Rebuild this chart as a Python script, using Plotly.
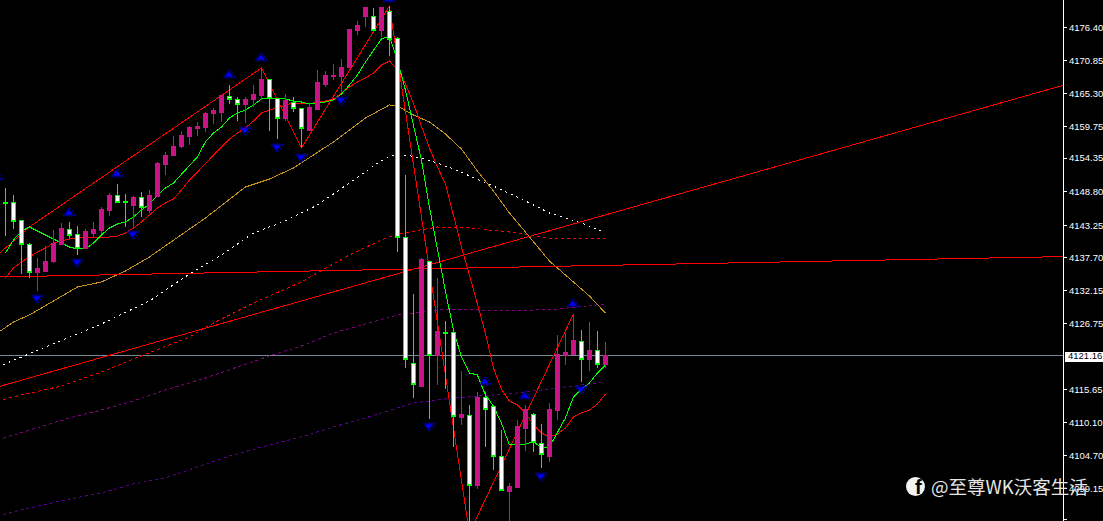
import plotly.graph_objects as go

bar_index = list(range(76))
open_prices = [4146.89,4146.81,4143.79,4139.76,4135.06,4135.39,4137.07,4139.92,4142.44,4141.44,
 4139.25,4141.77,4142.27,4145.63,4148.15,4147.14,4146.47,4147.81,4145.63,4147.98,
 4153.35,4154.70,4156.37,4158.05,4159.23,4159.40,4161.75,4162.08,4164.60,4164.26,
 4163.26,4164.10,4164.93,4167.62,4164.43,4161.07,4163.76,4162.75,4159.06,4162.42,
 4166.78,4167.96,4168.12,4169.47,4175.68,4178.03,4178.03,4175.68,4178.87,4174.50,
 4141.10,4119.95,4116.09,4137.07,4121.13,4125.07,4124.99,4110.72,4111.22,4099.47,
 4114.08,4112.57,4104.34,4098.30,4098.97,4109.04,4111.39,4106.52,4104.34,4112.06,
 4121.29,4121.46,4123.64,4120.46,4122.13,4119.78]
high_prices = [4149.32,4148.15,4143.95,4140.09,4137.57,4139.59,4142.27,4143.45,4143.62,4142.95,
 4142.44,4143.62,4146.14,4148.49,4150.00,4148.32,4147.98,4148.65,4148.99,4153.69,
 4155.37,4158.05,4158.89,4159.73,4160.40,4162.08,4162.75,4164.77,4166.61,4164.60,
 4164.60,4166.61,4169.47,4167.62,4164.43,4165.10,4164.60,4162.75,4163.59,4169.13,
 4168.96,4170.14,4170.98,4176.01,4177.36,4179.54,4179.54,4179.54,4179.87,4174.67,
 4151.51,4131.53,4137.57,4137.07,4134.22,4127.00,4124.99,4118.61,4112.90,4115.08,
 4115.08,4112.57,4108.70,4099.81,4110.38,4112.90,4111.56,4109.71,4113.24,4124.65,
 4124.99,4128.18,4125.49,4126.83,4125.32,4123.47]
low_prices = [4141.27,4142.44,4134.89,4134.22,4132.04,4135.39,4136.74,4139.92,4140.93,4138.08,
 4139.25,4140.93,4141.60,4144.62,4146.81,4142.78,4142.78,4144.46,4145.13,4147.98,
 4151.51,4154.70,4156.04,4156.54,4158.05,4158.72,4160.07,4160.40,4163.42,4160.57,
 4160.24,4162.92,4164.10,4158.89,4157.55,4160.57,4162.08,4156.04,4159.06,4162.42,
 4166.28,4167.45,4165.44,4169.47,4175.00,4176.35,4175.68,4174.67,4171.48,4138.58,
 4119.11,4114.08,4116.09,4110.55,4116.26,4115.59,4105.85,4109.55,4091.42,4098.80,
 4105.85,4101.99,4098.47,4091.42,4098.97,4105.18,4105.01,4102.33,4103.33,4110.38,
 4119.62,4121.46,4116.76,4118.61,4119.11,4119.11]
close_prices = [4146.72,4143.62,4139.76,4135.06,4135.73,4137.07,4140.09,4142.61,4141.27,4139.25,
 4141.94,4142.44,4145.80,4148.15,4146.81,4146.81,4147.65,4145.97,4148.15,4153.52,
 4154.86,4156.37,4158.22,4159.40,4159.73,4161.91,4162.25,4164.77,4164.10,4163.26,
 4164.26,4165.10,4167.62,4164.43,4161.07,4163.93,4162.59,4159.23,4162.92,4166.95,
 4168.29,4168.21,4169.63,4176.01,4176.68,4179.54,4175.68,4179.54,4174.33,4141.10,
 4120.62,4116.26,4137.24,4121.13,4125.32,4124.90,4110.89,4111.39,4099.31,4114.08,
 4112.23,4104.34,4098.47,4099.14,4109.21,4112.23,4106.69,4104.51,4112.23,4121.46,
 4121.63,4123.81,4120.62,4121.97,4119.62,4121.13]

fast_ma = [4138.41,4140.60,4142.11,4142.78,4142.11,4141.44,4140.76,4140.09,4139.42,4139.09,
 4139.09,4140.09,4141.44,4142.61,4143.28,4143.62,4144.46,4145.63,4146.64,4148.15,
 4149.32,4150.16,4151.67,4153.18,4154.53,4157.05,4158.56,4159.56,4161.07,4161.91,
 4162.42,4163.26,4164.26,4164.43,4164.43,4164.26,4163.93,4163.76,4163.42,4163.59,
 4163.76,4164.10,4165.10,4166.61,4168.29,4170.47,4172.49,4174.33,4174.84,4170.81,
 4165.77,4159.90,4154.02,4146.14,4138.92,4132.04,4125.49,4120.96,4118.27,4117.94,
 4114.58,4112.73,4109.88,4106.19,4106.19,4106.36,4106.69,4105.85,4105.85,4108.20,
 4110.72,4114.24,4115.59,4116.59,4118.27,4119.62]
mid_ma = [4134.22,4135.90,4136.90,4137.74,4138.58,4139.25,4140.09,4140.43,4140.76,4140.93,
 4141.10,4141.10,4141.10,4141.10,4141.27,4141.77,4142.61,4143.62,4144.79,4145.97,
 4146.81,4147.48,4148.99,4150.67,4152.01,4153.52,4154.86,4156.21,4157.55,4158.56,
 4159.40,4160.57,4161.91,4162.42,4162.75,4163.26,4163.59,4163.59,4163.42,4163.76,
 4163.93,4164.26,4165.27,4166.28,4167.12,4167.79,4168.63,4169.97,4170.64,4169.13,
 4166.78,4163.59,4159.73,4156.04,4152.85,4150.00,4144.79,4139.42,4134.72,4130.02,
 4124.99,4119.11,4115.59,4113.57,4112.90,4111.56,4109.55,4108.20,4107.53,4108.03,
 4109.04,4110.89,4111.56,4112.06,4113.07,4114.75]

zigzag_idx = [-1,3,32,37,48,58,71]
zigzag_val = [4138.08,4142.78,4169.47,4156.04,4179.87,4091.42,4128.18]

slow_idx = [-1,1,3,6,9,12,15,18,21,25,30,33,36,41,45,48,49,51,53,55,57,59,61,63,65,68,71,73,75]
slow_val = [4124.99,4126.83,4128.01,4130.36,4132.71,4133.55,4135.39,4137.74,4140.60,4144.29,
 4149.49,4150.83,4152.68,4157.05,4161.07,4163.26,4163.09,4161.58,4160.40,4158.39,
 4155.87,4152.18,4148.82,4145.13,4141.94,4137.07,4133.55,4131.20,4128.34]

white_idx = [-1,2,6,12,18,21,23,27,31,35,39,43,46,48,50,52,54,56,59,61,65,68,72,75]
white_val = [4119.28,4120.96,4123.14,4126.50,4130.36,4133.04,4134.89,4138.08,4141.77,4143.79,
 4146.47,4150.16,4153.02,4154.70,4154.86,4154.36,4153.52,4152.51,4150.83,4149.66,
 4147.14,4145.13,4143.45,4141.77]

reddash_idx = [-1,2,7,12,17,23,26,31,37,43,47,49,54,58,63,65,68,75]
reddash_val = [4113.57,4114.58,4116.09,4118.44,4121.13,4124.32,4126.66,4130.02,4133.55,4138.08,
 4140.60,4141.60,4142.78,4142.61,4141.94,4141.60,4140.93,4140.93]

purple_idx = [-1,3,8,12,16,20,25,29,33,37,41,45,49,51,55,59,63,69,75]
purple_val = [4107.03,4108.70,4110.72,4112.06,4113.57,4115.42,4117.43,4119.28,4121.13,4122.80,
 4124.99,4126.50,4128.01,4128.34,4129.01,4128.85,4128.68,4129.01,4129.85]

indigo_idx = [-1,3,8,12,16,20,24,28,33,37,41,45,49,51,55,59,63,67,75]
indigo_val = [4094.27,4095.61,4097.12,4098.13,4099.64,4100.65,4102.50,4104.34,4106.19,4107.53,
 4109.21,4110.72,4112.40,4113.24,4113.91,4114.41,4114.75,4115.42,4116.76]

trend_idx = [-1,133]
trend_flat_val = [4134.39,4137.83]
trend_rise_val = [4115.92,4166.86]

up_idx = [-1,8,14,28,32,48,60,65,71]
up_val = [4151.17,4145.13,4151.67,4168.29,4171.14,4181.05,4116.76,4114.41,4129.85]
down_idx = [4,9,16,30,34,37,42,53,67,72]
down_val = [4130.86,4136.90,4141.60,4159.06,4156.21,4154.53,4164.10,4109.38,4101.00,4115.59]

last_price = 4121.16
tick_levels = [4176.31,4170.77,4165.23,4159.69,4154.34,4148.78,4143.08,4137.70,4132.17,4126.63,
 4115.55,4110.01,4104.39,4098.85,4093.60]
tick_text = ["4176.40","4170.85","4165.30","4159.75","4154.35","4148.80","4143.25","4137.70",
 "4132.15","4126.75","4115.65","4110.10","4104.70","4099.15","4093.60"]

X_RANGE = [-0.68, 132.2]
Y_RANGE = [4093.43, 4180.88]
RED, LIME = "#ff0000", "#00ff00"

fig = go.Figure()

def line(x, y, color, dash="solid"):
    fig.add_trace(go.Scatter(x=x, y=y, mode="lines", hoverinfo="skip", showlegend=False,
                             line=dict(color=color, width=1, dash=dash)))

line(trend_idx, [last_price, last_price], "#778899")
line(purple_idx, purple_val, "#800080", "3px,3px")
line(indigo_idx, indigo_val, "#5a0090", "3px,3px")
line(reddash_idx, reddash_val, RED, "3px,3px")
line(white_idx, white_val, "#ffffff", "2px,4px")
line(slow_idx, slow_val, "#c8901c")
line(trend_idx, trend_flat_val, RED)
line(trend_idx, trend_rise_val, RED)
line(zigzag_idx, zigzag_val, RED)
line(bar_index, mid_ma, RED)
line(bar_index, fast_ma, LIME)

fig.add_trace(go.Candlestick(
    x=bar_index, open=open_prices, high=high_prices, low=low_prices, close=close_prices,
    xaxis="x2", yaxis="y2", showlegend=False, hoverinfo="skip", whiskerwidth=0,
    increasing=dict(line=dict(color="#c71585", width=1), fillcolor="#c71585"),
    decreasing=dict(line=dict(color=LIME, width=1), fillcolor="#ffffff"),
))

def arrows(x, y, symbol):
    fig.add_trace(go.Scatter(x=x, y=y, mode="markers", xaxis="x2", yaxis="y2",
                             hoverinfo="skip", showlegend=False,
                             marker=dict(symbol=symbol + "-open", size=11, color="#00009a",
                                         line=dict(color="#00009a", width=1))))
    fig.add_trace(go.Scatter(x=[v - 0.06 for v in x], y=y, mode="markers", xaxis="x2", yaxis="y2",
                             hoverinfo="skip", showlegend=False,
                             marker=dict(symbol=symbol, size=7, color="#0000ff",
                                         line=dict(width=0))))

arrows(up_idx, up_val, "triangle-up")
arrows(down_idx, down_val, "triangle-down")

W, H, PLOT_W = 1103, 521, 1063

fig.update_layout(
    width=W, height=H, autosize=False,
    margin=dict(l=0, r=W - PLOT_W, t=0, b=0, pad=0),
    paper_bgcolor="#000000", plot_bgcolor="#000000",
    showlegend=False, hovermode=False, dragmode=False,
    boxgap=0.5, boxgroupgap=0,
    xaxis=dict(range=X_RANGE, visible=False, fixedrange=True, rangeslider=dict(visible=False)),
    xaxis2=dict(range=X_RANGE, visible=False, fixedrange=True, overlaying="x",
                rangeslider=dict(visible=False)),
    yaxis=dict(range=Y_RANGE, side="right", fixedrange=True, showgrid=False, zeroline=False,
               tickmode="array", tickvals=tick_levels, ticktext=tick_text,
               ticks="outside", ticklen=3, tickwidth=1, tickcolor="#ffffff",
               showline=True, linecolor="#ffffff", linewidth=1,
               tickfont=dict(family="Liberation Sans", size=9.5, color="#ffffff")),
    yaxis2=dict(range=Y_RANGE, visible=False, fixedrange=True, overlaying="y", side="right"),
    shapes=[
        dict(type="rect", layer="above", xref="paper", yref="paper",
             x0=1065 / PLOT_W, x1=W / PLOT_W, y0=1 - 362 / H, y1=1 - 352 / H,
             fillcolor="#ffffff", line=dict(width=0)),
        dict(type="circle", layer="above", xref="paper", yref="paper",
             x0=906 / PLOT_W, x1=925 / PLOT_W, y0=1 - 496 / H, y1=1 - 477 / H,
             fillcolor="#f2f2f2", line=dict(width=0)),
    ],
    annotations=[
        dict(text=f"{last_price:.2f}", xref="paper", yref="y", x=1, y=last_price,
             xanchor="left", yanchor="middle", xshift=4, showarrow=False,
             font=dict(family="Liberation Sans", size=9.5, color="#000000"), borderpad=0),
        dict(text="<b>f</b>", xref="paper", yref="paper", x=918 / PLOT_W, y=1 - 487 / H,
             xanchor="center", yanchor="middle", showarrow=False,
             font=dict(family="Liberation Sans", size=20, color="#000000")),
        dict(text="@至尊WK沃客生活", xref="paper", yref="paper", x=929 / PLOT_W, y=1 - 486 / H,
             xanchor="left", yanchor="middle", showarrow=False,
             font=dict(family="Noto Sans CJK SC", size=18.5, color="#e6e6e6")),
    ],
)

post = """
document.documentElement.style.background='#000';
document.body.style.margin='0';document.body.style.background='#000';document.body.style.overflow='hidden';
var s=document.createElement('style');
s.textContent='.js-line,.boxes path{shape-rendering:crispEdges}';
document.head.appendChild(s);
"""
fig.write_html("out.html", post_script=post, config={"displayModeBar": False})
